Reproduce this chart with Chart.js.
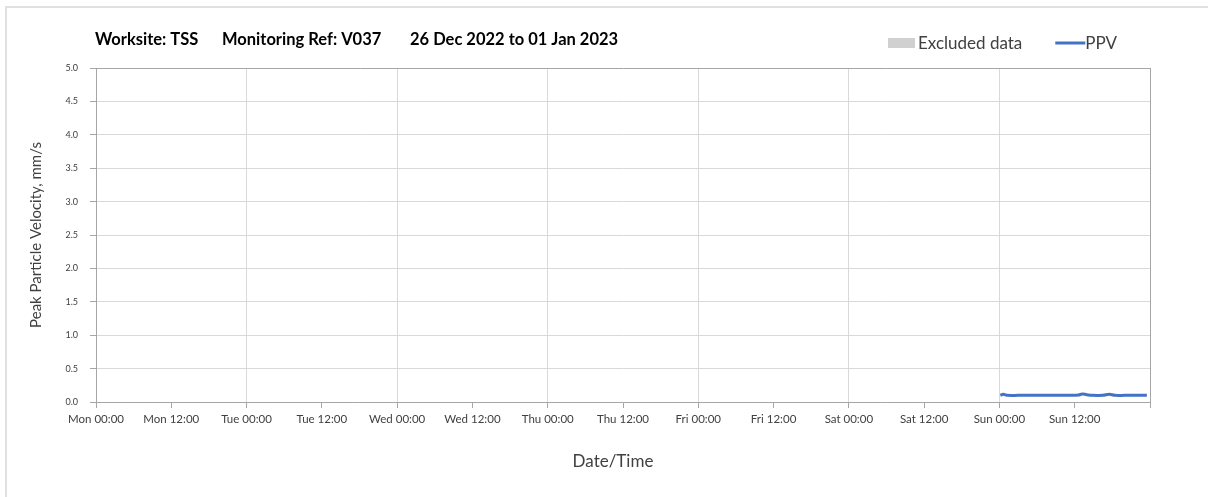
<!DOCTYPE html>
<html>
<head>
<meta charset="utf-8">
<script src="https://cdn.jsdelivr.net/npm/chart.js@4"></script>
<style>
  body { margin: 0; background: #fff; overflow: hidden; }
  #wrap { position: relative; width: 1208px; height: 497px; }
  #frame { position: absolute; left: 5px; top: 6px; width: 1220px; height: 510px; border: 2px solid #e0e0e0; pointer-events: none; }
</style>
</head>
<body>
<div id="wrap">
  <canvas id="myChart"></canvas>
  <div id="frame"></div>
</div>
<script>
const titleParts = ['Worksite: TSS', 'Monitoring Ref: V037', '26 Dec 2022 to 01 Jan 2023'];
const xTickLabels = ['Mon 00:00', 'Mon 12:00', 'Tue 00:00', 'Tue 12:00', 'Wed 00:00', 'Wed 12:00',
  'Thu 00:00', 'Thu 12:00', 'Fri 00:00', 'Fri 12:00', 'Sat 00:00', 'Sat 12:00', 'Sun 00:00', 'Sun 12:00'];
const xTitle = 'Date/Time';
const yTitle = 'Peak Particle Velocity, mm/s';

// hours since Mon 00:00
const ppvHours = [144.15, 144.6, 145.3, 147, 150, 153, 155.5, 156.6, 157.2, 157.9, 158.8, 160.5, 161.5, 162.4, 164, 166, 167.5];
const ppvValues = [0.10, 0.115, 0.10, 0.10, 0.10, 0.10, 0.10, 0.105, 0.12, 0.11, 0.10, 0.10, 0.115, 0.10, 0.10, 0.10, 0.10];
const excludedData = [];

const font = 'Lato';
const textColor = '#404040';
const borderGrey = '#a6a6a6';
const gridGrey = '#d9d9d9';

const headerPlugin = {
  id: 'header',
  afterDraw(chart) {
    const ctx = chart.ctx;
    ctx.save();
    ctx.textBaseline = 'middle';
    ctx.textAlign = 'left';
    ctx.fillStyle = '#000';
    ctx.font = 'bold 16.5px ' + font;
    const starts = [95, 222, 410];
    titleParts.forEach((t, i) => ctx.fillText(t, starts[i], 40));

    // legend
    ctx.font = '17px ' + font;
    let x = 888;
    chart.data.datasets.forEach(ds => {
      if (ds.legendKind === 'box') {
        ctx.fillStyle = ds.backgroundColor;
        ctx.fillRect(x, 38, 27, 10);
        x += 30;
      } else {
        ctx.strokeStyle = ds.borderColor;
        ctx.lineWidth = 3;
        ctx.beginPath();
        ctx.moveTo(x, 43);
        ctx.lineTo(x + 30, 43);
        ctx.stroke();
        x += 30;
      }
      ctx.fillStyle = textColor;
      ctx.fillText(ds.label, x, 44);
      x += ctx.measureText(ds.label).width + 33;
    });

    // x axis title
    ctx.font = '17px ' + font;
    ctx.textAlign = 'center';
    ctx.fillText(xTitle, 613, 462);
    ctx.restore();
  }
};

const ctx = document.getElementById('myChart').getContext('2d');
let myChart = new Chart(ctx, {
  type: 'line',
  data: {
    datasets: [
      {
        label: 'Excluded data',
        legendKind: 'box',
        data: excludedData,
        backgroundColor: '#d0d0d0',
        borderColor: '#d0d0d0'
      },
      {
        label: 'PPV',
        data: ppvHours.map((h, i) => ({ x: h, y: ppvValues[i] })),
        borderColor: '#4472c4',
        borderWidth: 3,
        pointRadius: 0,
        tension: 0.4,
        fill: false
      }
    ]
  },
  options: {
    responsive: true,
    maintainAspectRatio: false,
    animation: false,
    layout: { padding: { top: 68, right: 58, left: 0, bottom: 0 } },
    plugins: {
      legend: { display: false },
      tooltip: { enabled: false }
    },
    scales: {
      x: {
        type: 'linear',
        min: 0,
        max: 168,
        afterFit: s => { s.height = 95; },
        afterBuildTicks: s => {
          s.ticks = [];
          for (let v = 0; v <= 168; v += 12) s.ticks.push({ value: v });
        },
        ticks: {
          autoSkip: false,
          maxRotation: 0,
          padding: 4,
          color: textColor,
          font: { family: font, size: 11.5 },
          callback: (v, i) => xTickLabels[i] ?? ''
        },
        grid: {
          tickLength: 6,
          tickColor: borderGrey,
          color: c => c.tick && c.tick.value === 168 ? borderGrey : (c.tick && c.tick.value % 24 === 0 ? gridGrey : 'rgba(0,0,0,0)')
        },
        border: { color: borderGrey }
      },
      y: {
        min: 0,
        max: 5,
        afterFit: s => { s.width = 96; },
        ticks: {
          stepSize: 0.5,
          padding: 12,
          color: textColor,
          font: { family: font, size: 9 },
          callback: v => v.toFixed(1)
        },
        grid: {
          tickLength: 6,
          tickColor: borderGrey,
          color: c => c.tick && c.tick.value === 5 ? borderGrey : gridGrey
        },
        border: { color: borderGrey },
        title: {
          display: true,
          text: yTitle,
          color: textColor,
          font: { family: font, size: 15 },
          padding: { top: 27, bottom: 0 }
        }
      }
    }
  },
  plugins: [headerPlugin]
});
</script>
</body>
</html>
